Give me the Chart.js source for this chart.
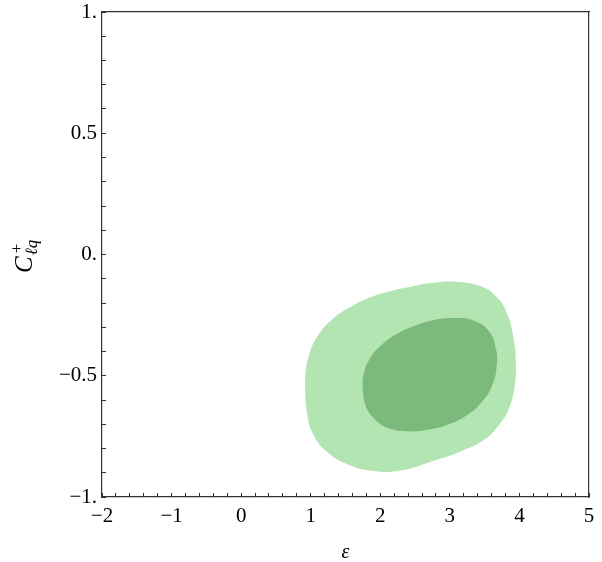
<!DOCTYPE html>
<html>
<head>
<meta charset="utf-8">
<script src="https://cdn.jsdelivr.net/npm/chart.js@4/dist/chart.umd.min.js"></script>
<style>
  html, body { margin: 0; padding: 0; background: #fff; }
  #wrap { width: 602px; height: 562px; }
</style>
</head>
<body>
<div id="wrap"><canvas id="chartContour"></canvas></div>
<script>
// ── contour data (epsilon, C+_lq) ──
var outerEps = [0.919, 0.928, 0.992, 1.111, 1.303, 1.543, 1.831, 2.167, 2.479, 2.724, 3.109, 3.444, 3.685, 3.829, 3.915, 3.948, 3.934, 3.852, 3.708, 3.492, 3.156, 2.772, 2.263, 1.879, 1.543, 1.255, 1.039, 0.943];
var outerC   = [-0.551, -0.482, -0.399, -0.331, -0.269, -0.221, -0.179, -0.149, -0.131, -0.118, -0.113, -0.131, -0.179, -0.248, -0.344, -0.440, -0.537, -0.633, -0.702, -0.764, -0.812, -0.850, -0.892, -0.892, -0.867, -0.819, -0.743, -0.647];

var innerEps = [1.745, 1.759, 1.856, 2.023, 2.263, 2.479, 2.724, 3.060, 3.348, 3.564, 3.660, 3.675, 3.613, 3.469, 3.253, 2.965, 2.677, 2.436, 2.119, 1.903, 1.784];
var innerC   = [-0.551, -0.496, -0.427, -0.372, -0.324, -0.296, -0.273, -0.262, -0.273, -0.317, -0.386, -0.454, -0.537, -0.605, -0.661, -0.702, -0.723, -0.729, -0.716, -0.674, -0.619];

var xTicksMajor = [-2, -1, 0, 1, 2, 3, 4, 5];
var yTicksMajor = [-1, -0.5, 0, 0.5, 1];

var COLORS = {
  outer: 'rgb(179,229,179)',
  inner: 'rgb(123,186,123)',
  axis:  '#333333'
};

var FONT_FAMILY = '"Liberation Serif", "DejaVu Serif", serif';

function closedLoop(xs, ys) {
  var pts = xs.map(function(x, i) { return { x: x, y: ys[i] }; });
  pts.push({ x: xs[0], y: ys[0] });
  return pts;
}

function isMajor(v, list) {
  return list.some(function(m) { return Math.abs(m - v) < 1e-6; });
}

function minus(s) { return s.replace('-', '\u2212'); }

// titre y : C^+_{lq}
var yTitlePlugin = {
  id: 'yTitle',
  afterDraw: function(chart) {
    var ctx = chart.ctx;
    ctx.save();
    ctx.translate(32, 273);
    ctx.rotate(-Math.PI / 2);
    ctx.fillStyle = '#000';
    ctx.textBaseline = 'alphabetic';
    ctx.font = 'italic 25px ' + FONT_FAMILY;
    var wC = ctx.measureText('C').width;
    ctx.fillText('C', 0, 0);
    ctx.font = '17px ' + FONT_FAMILY;
    ctx.fillText('+', wC + 3, -10);
    ctx.font = 'italic 17px ' + FONT_FAMILY;
    ctx.fillText('\u2113q', wC + 1, 5);
    ctx.restore();
  }
};

function noEdgePadding(s) {
  s.paddingTop = 0; s.paddingBottom = 0; s.paddingLeft = 0; s.paddingRight = 0;
}

var ctxC = document.getElementById('chartContour');
new Chart(ctxC, {
  type: 'scatter',
  data: {
    datasets: [
      {
        label: 'inner',
        data: closedLoop(innerEps, innerC),
        showLine: true,
        fill: 'shape',
        backgroundColor: COLORS.inner,
        borderWidth: 0,
        pointRadius: 0,
        tension: 0.45,
        order: 0
      },
      {
        label: 'outer',
        data: closedLoop(outerEps, outerC),
        showLine: true,
        fill: 'shape',
        backgroundColor: COLORS.outer,
        borderWidth: 0,
        pointRadius: 0,
        tension: 0.45,
        order: 1
      }
    ]
  },
  options: {
    responsive: true,
    maintainAspectRatio: false,
    animation: false,
    layout: { padding: { left: 0, right: 13, top: 12, bottom: 0 } },
    plugins: {
      legend: { display: false },
      tooltip: { enabled: false }
    },
    scales: {
      x: {
        type: 'linear',
        position: 'bottom',
        min: -2,
        max: 5,
        afterFit: function(s) { s.height = 65; noEdgePadding(s); },
        border: { display: true, color: COLORS.axis, width: 1.2 },
        grid: { drawOnChartArea: false, drawTicks: true, tickLength: -4, tickColor: COLORS.axis, tickWidth: 1 },
        ticks: {
          stepSize: 0.2,
          autoSkip: false,
          maxRotation: 0,
          padding: 11,
          color: '#000',
          font: { family: FONT_FAMILY, size: 21 },
          callback: function(v) { return isMajor(v, xTicksMajor) ? minus(String(Math.round(v))) : ''; }
        },
        title: {
          display: true,
          text: '\u03b5',
          color: '#000',
          font: { family: FONT_FAMILY, size: 20, style: 'italic' },
          padding: { top: 10, bottom: -3 }
        }
      },
      y: {
        type: 'linear',
        position: 'left',
        min: -1,
        max: 1,
        afterFit: function(s) { s.width = 102; noEdgePadding(s); },
        border: { display: true, color: COLORS.axis, width: 1.2 },
        grid: { drawOnChartArea: false, drawTicks: true, tickLength: -4, tickColor: COLORS.axis, tickWidth: 1 },
        ticks: {
          stepSize: 0.1,
          autoSkip: false,
          padding: 9,
          color: '#000',
          font: { family: FONT_FAMILY, size: 21 },
          callback: function(v) {
            if (!isMajor(v, yTicksMajor)) return '';
            var r = Math.round(v * 10) / 10;
            var s = (r === Math.round(r)) ? String(Math.round(r)) + '.' : String(r);
            return minus(s);
          }
        }
      },
      xTop: {
        type: 'linear',
        position: 'top',
        min: -2,
        max: 5,
        afterFit: function(s) { s.height = 0; noEdgePadding(s); },
        border: { display: true, color: COLORS.axis, width: 1.2 },
        grid: { drawOnChartArea: false, drawTicks: false },
        ticks: { display: false }
      },
      yRight: {
        type: 'linear',
        position: 'right',
        min: -1,
        max: 1,
        afterFit: function(s) { s.width = 0; noEdgePadding(s); },
        border: { display: true, color: COLORS.axis, width: 1.2 },
        grid: { drawOnChartArea: false, drawTicks: false },
        ticks: { display: false }
      }
    }
  },
  plugins: [yTitlePlugin]
});
</script>
</body>
</html>
